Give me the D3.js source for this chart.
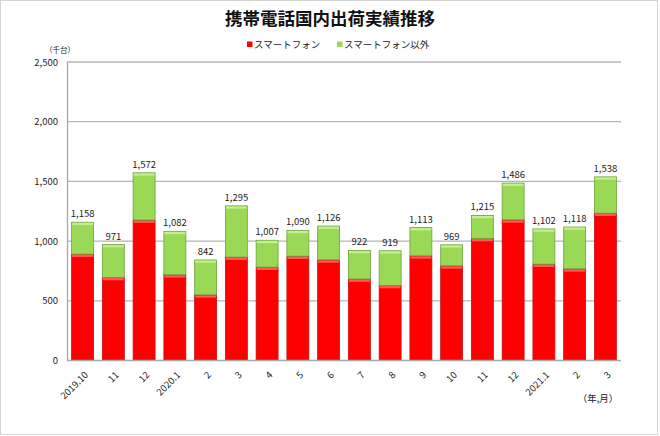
<!DOCTYPE html>
<html><head><meta charset="utf-8">
<script src="https://cdn.jsdelivr.net/npm/d3@7"></script>
<style>html,body{margin:0;padding:0;background:#fff;}svg{display:block;}</style>
</head><body>
<svg id="chart" width="660" height="436"></svg>
<script>
const categories = ["2019.10","11","12","2020.1","2","3","4","5","6","7","8","9","10","11","12","2021.1","2","3"];
const smartphone = [891,695,1176,718,550,866,782,874,843,682,628,877,793,1022,1178,807,768,1234];
const nonSmartphone = [267,276,396,364,292,429,225,216,283,240,291,236,176,193,308,295,350,304];
const totals = [1158,971,1572,1082,842,1295,1007,1090,1126,922,919,1113,969,1215,1486,1102,1118,1538];
const yTicks = [0,500,1000,1500,2000,2500];
const seriesNames = ["スマートフォン","スマートフォン以外"];

const FONT = "'Noto Sans CJK JP','Noto Sans',sans-serif";
const svg = d3.select("#chart");
svg.append("rect").attr("x",0.5).attr("y",0.5).attr("width",657).attr("height",434)
  .attr("fill","#fff").attr("stroke","#d4d4d4");

const x = d3.scaleBand().domain(d3.range(categories.length)).range([67,621]).paddingInner(0.286).paddingOuter(0.15);
const y = d3.scaleLinear().domain([0,2500]).range([360.5,62]);

// gridlines
svg.append("g").selectAll("line").data(yTicks.filter(d=>d>0)).join("line")
  .attr("x1",67).attr("x2",621).attr("y1",d=>y(d)).attr("y2",d=>y(d))
  .attr("stroke","#b5b5b5").attr("stroke-width",1.3);

// y axis
const yAxis = svg.append("g").attr("transform","translate(67,0)")
  .call(d3.axisLeft(y).tickValues(yTicks).tickSize(0).tickPadding(9).tickFormat(d3.format(",")));
yAxis.select(".domain").attr("stroke","#a8a8a8").attr("stroke-width",1.3);
yAxis.selectAll("text").attr("font-family",FONT).attr("font-size",9.5).attr("fill","#222");

// stacked bars
const stack = categories.map((c,i)=>({i, s:smartphone[i], o:nonSmartphone[i], t:totals[i]}));
const g = svg.append("g");
const bw = x.bandwidth();
// smartphone (red)
g.selectAll("rect.s").data(stack).join("rect").attr("class","s")
  .attr("x",d=>x(d.i)).attr("width",bw)
  .attr("y",d=>y(d.s)).attr("height",d=>y(0)-y(d.s))
  .attr("fill","#ff0000").attr("stroke","#c81010").attr("stroke-width",0.8);
g.selectAll("rect.sh").data(stack).join("rect").attr("class","sh")
  .attr("x",d=>x(d.i)+0.6).attr("width",bw-1.2)
  .attr("y",d=>y(d.s)+0.6).attr("height",2.2)
  .attr("fill","#ff5a5a");
// non-smartphone (green)
g.selectAll("rect.o").data(stack).join("rect").attr("class","o")
  .attr("x",d=>x(d.i)).attr("width",bw)
  .attr("y",d=>y(d.s+d.o)).attr("height",d=>y(d.s)-y(d.s+d.o))
  .attr("fill","#99d955").attr("stroke","#6fa33a").attr("stroke-width",0.8);
g.selectAll("rect.oh").data(stack).join("rect").attr("class","oh")
  .attr("x",d=>x(d.i)+0.6).attr("width",bw-1.2)
  .attr("y",d=>y(d.s+d.o)+0.6).attr("height",2.2)
  .attr("fill","#c4ef95");

// x axis baseline
svg.append("line").attr("x1",67).attr("x2",621).attr("y1",y(0)).attr("y2",y(0))
  .attr("stroke","#a8a8a8").attr("stroke-width",1.3);

// value labels
g.selectAll("text.v").data(stack).join("text").attr("class","v")
  .attr("x",d=>x(d.i)+bw/2).attr("y",d=>y(d.t)-5)
  .attr("text-anchor","middle").attr("font-family",FONT).attr("font-size",9.5).attr("fill","#222")
  .text(d=>d3.format(",")(d.t));

// x labels
const xAxis = svg.append("g").attr("transform",`translate(0,${y(0)})`)
  .call(d3.axisBottom(x).tickSize(0).tickFormat(i=>categories[i]));
xAxis.select(".domain").remove();
xAxis.selectAll("text").attr("font-family",FONT).attr("font-size",9.5).attr("fill","#222")
  .attr("text-anchor","end").attr("dy",0)
  .attr("transform","translate(4,13) rotate(-45)");

// title
svg.append("text").attr("x",330).attr("y",25).attr("text-anchor","middle")
  .attr("font-family",FONT).attr("font-weight","bold").attr("font-size",17.5).attr("fill","#111")
  .text("携帯電話国内出荷実績推移");

// legend
const legColors = ["#ff0000","#99d955"];
const legX = [247,337];
seriesNames.forEach((n,i)=>{
  svg.append("rect").attr("x",legX[i]).attr("y",41.5).attr("width",5.5).attr("height",5.5).attr("fill",legColors[i]);
  svg.append("text").attr("x",legX[i]+7).attr("y",48).attr("font-family",FONT).attr("font-size",9.5).attr("fill","#222").text(n);
});

// unit labels
svg.append("text").attr("x",60).attr("y",53).attr("text-anchor","middle")
  .attr("font-family",FONT).attr("font-size",7.5).attr("fill","#222").text("（千台）");
svg.append("text").attr("x",598).attr("y",402).attr("text-anchor","middle")
  .attr("font-family",FONT).attr("font-size",9.5).attr("fill","#222").text("（年,月）");
</script>
</body></html>
